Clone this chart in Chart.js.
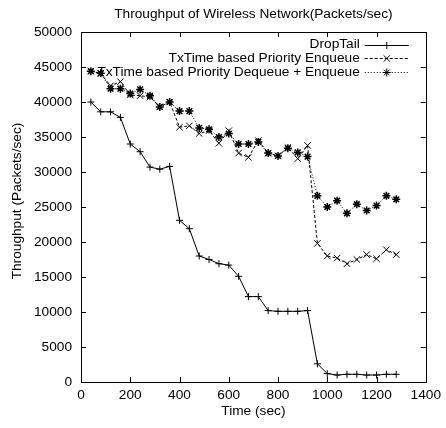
<!DOCTYPE html>
<html>
<head>
<meta charset="utf-8">
<script src="https://cdn.jsdelivr.net/npm/chart.js@4/dist/chart.umd.min.js"></script>
<style>
  html, body { margin: 0; padding: 0; background: #fff; }
  canvas { display: block; }
</style>
</head>
<body>
<canvas id="c" width="446" height="428"></canvas>
<script>
// Simulation time of each sample (sec)
const times = [40, 80, 120, 160, 200, 240, 280, 320, 360, 400, 440, 480, 520, 560, 600, 640,
               680, 720, 760, 800, 840, 880, 920, 960, 1000, 1040, 1080, 1120, 1160, 1200, 1240, 1280];

// Throughput per queueing scheme (packets/sec)
const dropTail = [40000, 38600, 38600, 37800, 34000, 32900, 30700, 30400, 30800, 23100, 21900, 18000,
                  17500, 16900, 16700, 15100, 12200, 12200, 10200, 10100, 10100, 10100, 10200, 2600,
                  1200, 1000, 1100, 1100, 1000, 1000, 1100, 1100];
const priorityEnqueue = [44400, 44100, 42300, 42900, 41000, 40900, 40700, 39300, 40000, 36400, 36600, 35500,
                         35900, 34100, 35900, 32700, 32100, 34500, 32700, 32300, 33500, 31900, 33800, 19800,
                         18000, 17700, 16900, 17500, 18200, 17600, 18900, 18200];
const priorityDeqEnq = [44400, 44100, 41900, 41900, 41200, 41800, 40900, 39300, 40000, 38700, 38700, 36300,
                        36100, 35000, 35500, 34000, 34000, 34300, 32700, 32300, 33400, 32800, 32200, 26600,
                        25000, 25900, 24100, 25400, 24500, 25200, 26600, 26100];

const seriesNames = ['DropTail', 'TxTime based Priority Enqueue', 'TxTime based Priority Dequeue + Enqueue'];
const xTicks = [0, 200, 400, 600, 800, 1000, 1200, 1400];
const yTicks = [0, 5000, 10000, 15000, 20000, 25000, 30000, 35000, 40000, 45000, 50000];

const chartTitle = 'Throughput of Wireless Network(Packets/sec)';
const xTitle = 'Time (sec)';
const yTitle = 'Throughput (Packets/sec)';

const FONT = '"Liberation Sans", Arial, Helvetica, sans-serif';
const FSIZE = 13.7;
const INK = '#000';

const toPoints = vals => times.map((t, i) => ({ x: t, y: vals[i] }));

// Frame, inward ticks on all four sides, titles and a right-aligned key
const frame = {
  id: 'frame',
  afterDraw(chart) {
    const { ctx, chartArea: a, scales } = chart;
    const tl = 5;
    ctx.save();
    ctx.strokeStyle = INK;
    ctx.lineWidth = 1;
    ctx.beginPath();
    xTicks.forEach(v => {
      const px = Math.round(scales.x.getPixelForValue(v)) + 0.5;
      ctx.moveTo(px, a.bottom); ctx.lineTo(px, a.bottom - tl);
      ctx.moveTo(px, a.top); ctx.lineTo(px, a.top + tl);
    });
    yTicks.forEach(v => {
      const py = Math.round(scales.y.getPixelForValue(v)) + 0.5;
      ctx.moveTo(a.left, py); ctx.lineTo(a.left + tl, py);
      ctx.moveTo(a.right, py); ctx.lineTo(a.right - tl, py);
    });
    ctx.stroke();
    ctx.strokeRect(Math.round(a.left) + 0.5, Math.round(a.top) + 0.5,
                   Math.round(a.right - a.left), Math.round(a.bottom - a.top));

    ctx.fillStyle = INK;
    ctx.font = FSIZE + 'px ' + FONT;
    ctx.textAlign = 'center';
    ctx.textBaseline = 'middle';
    ctx.fillText(chartTitle, (a.left + a.right) / 2, 14);
    ctx.fillText(xTitle, (a.left + a.right) / 2, 411);
    ctx.save();
    ctx.translate(17, 201);
    ctx.rotate(-Math.PI / 2);
    ctx.fillText(yTitle, 0, 0);
    ctx.restore();

    // key
    const textRight = a.right - 66;
    const sx0 = a.right - 61, sx1 = a.right - 17;
    chart.data.datasets.forEach((ds, i) => {
      const y = a.top + 12.5 + i * 13.7;
      ctx.fillStyle = INK;
      ctx.textAlign = 'right';
      ctx.fillText(ds.label, textRight, y);
      ctx.save();
      ctx.strokeStyle = ds.borderColor;
      ctx.lineWidth = ds.borderWidth;
      ctx.setLineDash(ds.borderDash || []);
      ctx.beginPath();
      ctx.moveTo(sx0, Math.round(y) + 0.5);
      ctx.lineTo(sx1, Math.round(y) + 0.5);
      ctx.stroke();
      ctx.restore();
      Chart.helpers.drawPoint(ctx, {
        pointStyle: ds.pointStyle, radius: ds.pointRadius, borderWidth: 1, rotation: 0
      }, (sx0 + sx1) / 2, Math.round(y) + 0.5);
    });
    ctx.restore();
  }
};

new Chart(document.getElementById('c'), {
  type: 'line',
  data: {
    datasets: [
      {
        label: seriesNames[0], data: toPoints(dropTail),
        borderColor: INK, backgroundColor: INK, borderWidth: 1,
        pointStyle: 'cross', pointRadius: 3.5, pointBorderWidth: 1, tension: 0
      },
      {
        label: seriesNames[1], data: toPoints(priorityEnqueue),
        borderColor: INK, backgroundColor: INK, borderWidth: 1, borderDash: [3, 2],
        pointStyle: 'crossRot', pointRadius: 4.5, pointBorderWidth: 1, tension: 0
      },
      {
        label: seriesNames[2], data: toPoints(priorityDeqEnq),
        borderColor: INK, backgroundColor: INK, borderWidth: 1, borderDash: [1, 2],
        pointStyle: 'star', pointRadius: 4, pointBorderWidth: 1.5, tension: 0
      }
    ]
  },
  plugins: [frame],
  options: {
    responsive: false,
    animation: false,
    events: [],
    layout: { padding: { left: 0, right: 14, top: 32, bottom: 0 } },
    plugins: { legend: { display: false }, title: { display: false }, tooltip: { enabled: false } },
    scales: {
      x: {
        type: 'linear', min: 0, max: 1400,
        afterBuildTicks: s => { s.ticks = xTicks.map(v => ({ value: v })); },
        afterFit: s => { s.height = 46; },
        grid: { display: false, drawTicks: false },
        border: { display: false },
        ticks: { color: INK, font: { family: FONT, size: FSIZE }, padding: 5, maxRotation: 0,
                 autoSkip: false, callback: v => String(v) }
      },
      y: {
        type: 'linear', min: 0, max: 50000,
        afterBuildTicks: s => { s.ticks = yTicks.map(v => ({ value: v })); },
        afterFit: s => { s.width = 81; },
        grid: { display: false, drawTicks: false },
        border: { display: false },
        ticks: { color: INK, font: { family: FONT, size: FSIZE }, padding: 9,
                 autoSkip: false, callback: v => String(v) }
      }
    }
  }
});
</script>
</body>
</html>
